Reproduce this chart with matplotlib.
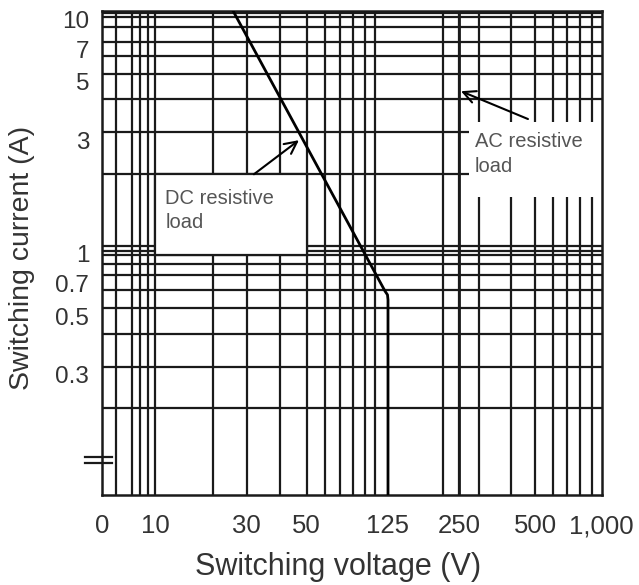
import numpy as np
import matplotlib
matplotlib.use("Agg")
import matplotlib.pyplot as plt
from matplotlib.patches import Rectangle
from matplotlib.transforms import ScaledTranslation

plt.rcParams['font.family'] = ['Liberation Sans', 'DejaVu Sans']

# ---- data ----
x_ticks = [0, 10, 30, 50, 125, 250, 500, 1000]
x_tick_labels = ['0', '10', '30', '50', '125', '250', '500', '1,000']
y_ticks = [0.3, 0.5, 0.7, 1, 3, 5, 7, 10]
y_tick_labels = ['0.3', '0.5', '0.7', '1', '3', '5', '7', '10']

# grid lines of the chart paper (V and A)
x_grid = [2.7, 5.6, 7.2, 8.7, 10, 20, 30, 40, 50, 60, 70, 80, 90, 100,
          200, 250, 300, 400, 500, 600, 700, 800, 900]
y_grid = [0.2, 0.3, 0.4, 0.5, 0.6, 0.7, 0.8, 0.9, 0.945, 1,
          2, 3, 4, 5, 6, 7, 8, 9, 9.75]

# DC resistive load limit
dc_voltage = [25.5, 118.7, 123.9, 125, 125]
dc_current = [10, 0.595, 0.573, 0.545, 0.1]
ac_voltage = 250

# ---- non uniform chart paper: value -> paper position ----
X_PAPER_V = np.array([0, 10, 30, 50, 100, 125, 200, 250, 500, 1000])
X_PAPER_POS = np.array([0, 53.3, 145, 205, 273.3, 286.3, 341.6, 357.6, 433.3, 500])
Y_PAPER_A = np.array([0.1, 0.2, 0.3, 0.5, 0.7, 1, 3, 5, 7, 8, 9, 10])
Y_PAPER_POS = np.array([0, 86.7, 128.3, 186.7, 220, 249, 362.7, 421, 453.3, 468.3, 477.7, 484])


def _xu(v):
    v = np.asarray(v, dtype=float)
    return np.where(v <= 10, v / 10, 1 + np.log10(np.maximum(v, 10) / 10))


X_PAPER_U = _xu(X_PAPER_V)


def x_fwd(v):
    return np.interp(_xu(v), X_PAPER_U, X_PAPER_POS)


def x_inv(p):
    u = np.interp(p, X_PAPER_POS, X_PAPER_U)
    return np.where(u <= 1, 10 * u, 10 * 10 ** (u - 1))


def y_fwd(v):
    v = np.maximum(np.asarray(v, dtype=float), 1e-3)
    return np.interp(np.log10(v), np.log10(Y_PAPER_A), Y_PAPER_POS)


def y_inv(p):
    return 10 ** np.interp(p, Y_PAPER_POS, np.log10(Y_PAPER_A))


fig = plt.figure(figsize=(6.39, 5.85), dpi=100)
ax = fig.add_axes([101.7 / 639, 90 / 585, 500 / 639, 484 / 585])
ax.set_xscale('function', functions=(x_fwd, x_inv))
ax.set_yscale('function', functions=(y_fwd, y_inv))
ax.set_xlim(0, 1000)
ax.set_ylim(0.1, 10)

grid_kw = dict(color='#1a1a1a', lw=1.6, zorder=1)
for v in x_grid:
    ax.axvline(v, **grid_kw)
ax.axvline(ac_voltage, color='#1a1a1a', lw=2.0, zorder=1)
for a in y_grid:
    ax.axhline(a, **grid_kw)

# white label boxes punched into the grid
ax.add_patch(Rectangle((10, 0.9), 40, 1.1, facecolor='white',
                       edgecolor='#1a1a1a', lw=1.6, zorder=2))
ax.add_patch(Rectangle((272, 1.61), 800, 1.68, facecolor='white',
                       edgecolor='none', zorder=2))

ax.plot(dc_voltage, dc_current, color='black', lw=2.0, zorder=4,
        solid_joinstyle='round')

ax.text(11.3, 1.74, 'DC resistive\nload', fontsize=14.5, color='#555555',
        ha='left', va='top', linespacing=1.35, zorder=5)
ax.text(288, 3.0, 'AC resistive\nload', fontsize=14.5, color='#555555',
        ha='left', va='top', linespacing=1.35, zorder=5)

arrow_kw = dict(arrowstyle='->', lw=1.5, color='black', mutation_scale=22,
                shrinkA=0, shrinkB=0)
ax.annotate('', xy=(46.8, 2.78), xytext=(31.9, 2.0), arrowprops=arrow_kw, zorder=5)
ax.annotate('', xy=(253.9, 4.3), xytext=(468.8, 3.37), arrowprops=arrow_kw, zorder=5)

for s in ax.spines.values():
    s.set_linewidth(1.8)
    s.set_color('#1a1a1a')
    s.set_zorder(3)

# axis break mark
for yb in (0.078, 0.0655):
    ax.plot([-0.033, 0.02], [yb, yb], transform=ax.transAxes, color='#1a1a1a',
            lw=1.6, clip_on=False, zorder=5)

ax.xaxis.set_major_locator(matplotlib.ticker.FixedLocator(x_ticks))
ax.xaxis.set_major_formatter(matplotlib.ticker.FixedFormatter(x_tick_labels))
ax.yaxis.set_major_locator(matplotlib.ticker.FixedLocator(y_ticks))
ax.yaxis.set_major_formatter(matplotlib.ticker.FixedFormatter(y_tick_labels))
ax.xaxis.set_minor_locator(matplotlib.ticker.NullLocator())
ax.yaxis.set_minor_locator(matplotlib.ticker.NullLocator())
ax.tick_params(length=0, labelcolor='#333333')
ax.tick_params(axis='x', pad=14, labelsize=18.5)
ax.tick_params(axis='y', pad=9, labelsize=17.5)

shift = ScaledTranslation(0, -0.08, fig.dpi_scale_trans)
for lab in ax.get_yticklabels():
    lab.set_transform(lab.get_transform() + shift)

ax.set_xlabel('Switching voltage (V)', fontsize=22, color='#333333')
ax.xaxis.set_label_coords(0.473, -0.118)
ax.xaxis.label.set_va('top')
ax.set_ylabel('Switching current (A)', fontsize=20.5, color='#333333')
ax.yaxis.set_label_coords(-0.159, 0.49)
ax.yaxis.label.set_va('center')
ax.yaxis.label.set_ha('center')

fig.savefig('out.png', dpi=100)
